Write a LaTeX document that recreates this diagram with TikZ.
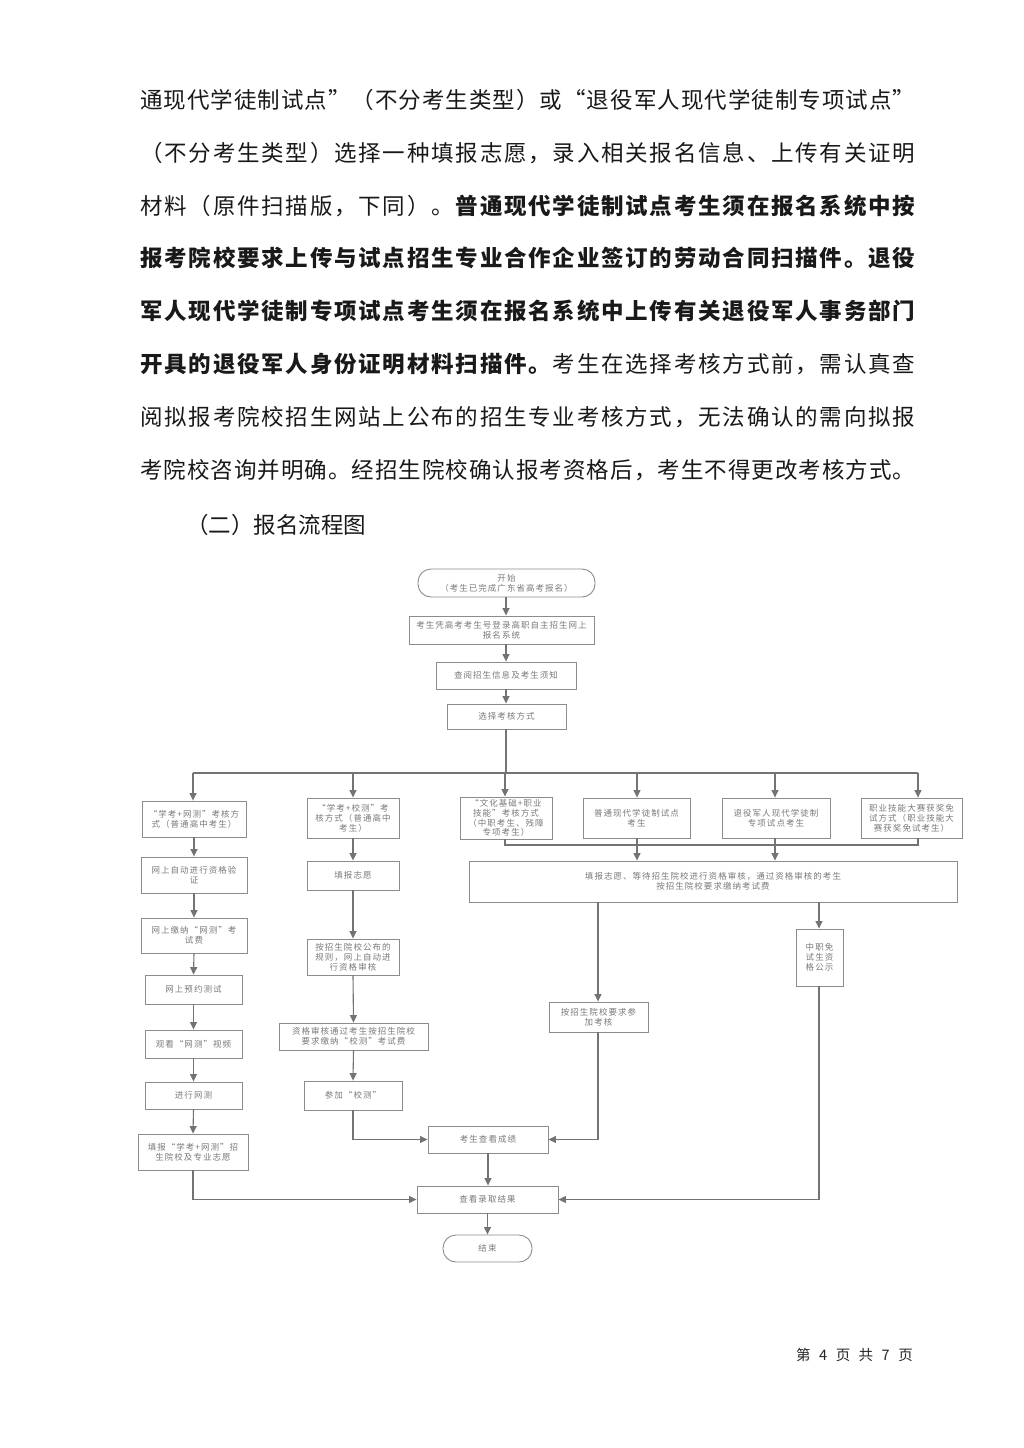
\documentclass[tikz,border=0pt]{standalone}
\usepackage{fontspec}
\setmainfont{Noto Sans CJK SC}
\newfontfamily\cjkf[LetterSpace=12]{Noto Sans CJK SC}
\usetikzlibrary{arrows.meta}
\definecolor{lc}{HTML}{737373}
\definecolor{bc}{HTML}{8C8C8C}
\definecolor{tc}{HTML}{7A7A7A}
\newdimen\linew \linew=775pt
\def\jlEnd{JLEND}\def\B{BOLD}\def\N{NORM}
\def\jlStop#1{}
\def\jlB#1{\ifx#1\jlEnd\expandafter\jlStop\else\expandafter\jlC\fi#1}
\def\jlC#1{\ifx#1\B\bfseries\else\ifx#1\N\mdseries\else\hfil#1\fi\fi\jlB}
\def\jline#1{\hbox to\linew{\hfilneg\jlB#1\jlEnd}}
\tikzset{
  body/.style={anchor=base west, inner sep=0pt, font=\fontsize{22.5}{27}\selectfont, text=black!90},
  box/.style={draw=bc, line width=0.9pt, fill=white, text=tc, font=\cjkf\fontsize{8.5}{9.8}\selectfont, align=center, inner sep=0pt, rectangle},
  term/.style={box, rounded corners=13pt},
  ln/.style={draw=lc, line width=1.1pt},
  arr/.style={ln, -{Triangle[length=7.5pt,width=7pt]}},
}
\newcommand\bx[6]{\node[box, minimum width=#4pt, minimum height=#5pt] (#1) at (#2,#3) {#6};}
\begin{document}
\begin{tikzpicture}[x=1pt,y=-1pt]
\useasboundingbox (0,0) rectangle (1024,1448);
\fill[white] (0,0) rectangle (1024,1448);
% body text
\node[body] (l1) at (140,108.5) {\jline{通现代学徒制试点”（不分考生类型）或“退役军人现代学徒制专项试点”}};
\node[body] (l2) at (140,161.3) {\jline{（不分考生类型）选择一种填报志愿，录入相关报名信息、上传有关证明}};
\node[body] (l3) at (140,214.1) {\jline{材料（原件扫描版，下同）。\B 普通现代学徒制试点考生须在报名系统中按}};
\node[body] (l4) at (140,266.9) {\jline{\B 报考院校要求上传与试点招生专业合作企业签订的劳动合同扫描件。退役}};
\node[body] (l5) at (140,319.7) {\jline{\B 军人现代学徒制专项试点考生须在报名系统中上传有关退役军人事务部门}};
\node[body] (l6) at (140,372.5) {\jline{\B 开具的退役军人身份证明材料扫描件。\N 考生在选择考核方式前，需认真查}};
\node[body] (l7) at (140,425.3) {\jline{阅拟报考院校招生网站上公布的招生专业考核方式，无法确认的需向拟报}};
\node[body] (l8) at (140,478.1) {\jline{考院校咨询并明确。经招生院校确认报考资格后，考生不得更改考核方式。}};
\node[body] (h2) at (186,533.5) {（二）报名流程图};
% flowchart
\node[term, minimum width=177pt, minimum height=28pt] (st) at (506.5,583) {开始\\（考生已完成广东省高考报名）};
\bx{n1}{501.5}{630}{185}{28}{考生凭高考考生号登录高职自主招生网上\\报名系统}
\bx{n2}{506}{675.5}{140}{27}{查阅招生信息及考生须知}
\bx{n3}{506.5}{716.5}{119}{25}{选择考核方式}
\bx{A1}{194}{819}{104}{36}{“学考+网测”考核方\\式（普通高中考生）}
\bx{B1}{353}{818}{92}{40}{“学考+校测”考\\核方式（普通高中\\考生）}
\bx{C1}{506}{818}{92}{42}{“文化基础+职业\\技能”考核方式\\（中职考生、残障\\专项考生）}
\bx{D1}{636.5}{818}{107}{40}{普通现代学徒制试点\\考生}
\bx{E1}{776}{818}{108}{40}{退役军人现代学徒制\\专项试点考生}
\bx{F1}{911.5}{818}{101}{40}{职业技能大赛获奖免\\试方式（职业技能大\\赛获奖免试考生）}
\bx{G}{713}{881.5}{488}{41}{填报志愿、等待招生院校进行资格审核，通过资格审核的考生\\按招生院校要求缴纳考试费}
\bx{H}{598.5}{1017}{99}{30}{按招生院校要求参\\加考核}
\bx{I}{819.5}{957.5}{47}{57}{中职免\\试生资\\格公示}
\bx{A2}{194}{875}{106}{36}{网上自动进行资格验\\证}
\bx{A3}{194}{935.5}{106}{35}{网上缴纳“网测”考\\试费}
\bx{A4}{193.5}{989.5}{97}{29}{网上预约测试}
\bx{A5}{193.5}{1044}{97}{28}{观看“网测”视频}
\bx{A6}{193.5}{1095.5}{97}{27}{进行网测}
\bx{A7}{193}{1152}{110}{36}{填报“学考+网测”招\\生院校及专业志愿}
\bx{B2}{353}{875.5}{92}{29}{填报志愿}
\bx{B3}{353}{957}{92}{36}{按招生院校公布的\\规则，网上自动进\\行资格审核}
\bx{B4}{353.5}{1036.5}{149}{27}{资格审核通过考生按招生院校\\要求缴纳“校测”考试费}
\bx{B5}{353}{1095.5}{98}{29}{参加“校测”}
\bx{J}{488}{1139.5}{120}{27}{考生查看成绩}
\bx{K}{487.5}{1199.5}{141}{27}{查看录取结果}
\node[term, minimum width=89pt, minimum height=27pt] (en) at (487.5,1248.5) {结束};
% top chain
\coordinate (c0) at (506,583);
\draw[arr] (c0 |- st.south) -- (c0 |- n1.north);
\draw[arr] (c0 |- n1.south) -- (c0 |- n2.north);
\draw[arr] (c0 |- n2.south) -- (c0 |- n3.north);
% bus
\coordinate (bA) at (193,773);
\coordinate (bB) at (353,773);
\coordinate (bC) at (505,773);
\coordinate (bD) at (637,773);
\coordinate (bE) at (775,773);
\coordinate (bF) at (918,773);
\draw[ln] (c0 |- n3.south) -- (c0 |- bC);
\draw[ln] (bA) -- (bF);
\foreach \p/\b in {bA/A1,bB/B1,bC/C1,bD/D1,bE/E1,bF/F1}
  \draw[arr] (\p) -- (\p |- \b.north);
% join under row
\coordinate (jC) at (505,845);
\coordinate (jF) at (918,845);
\draw[ln] (jC |- C1.south) -- (jC) -- (jF) -- (jF |- F1.south);
\draw[arr] (bD |- D1.south) -- (bD |- G.north);
\draw[arr] (bE |- E1.south) -- (bE |- G.north);
% G outputs
\coordinate (gH) at (598,900);
\coordinate (gI) at (819,900);
\draw[arr] (gH |- G.south) -- (gH |- H.north);
\draw[arr] (gI |- G.south) -- (gI |- I.north);
% left column
\draw[arr] (A1.south) -- (A2.north);
\draw[arr] (A2.south) -- (A3.north);
\draw[arr] (A3.south) -- (A4.north);
\draw[arr] (A4.south) -- (A5.north);
\draw[arr] (A5.south) -- (A6.north);
\draw[arr] (A6.south) -- (A7.north);
% second column
\draw[arr] (B1.south) -- (B2.north);
\draw[arr] (B2.south) -- (B3.north);
\draw[arr] (B3.south) -- (B4.north);
\draw[arr] (B4.south) -- (B5.north);
% to results
\draw[arr] (B5.south) |- (J.west);
\draw[arr] (gH |- H.south) |- (J.east);
\draw[arr] (A7.south) |- (K.west);
\draw[arr] (gI |- I.south) |- (K.east);
\draw[arr] (J.south) -- (J.south |- K.north);
\draw[arr] (K.south) -- (K.south |- en.north);
% footer
\node[anchor=base west, inner sep=0pt, font=\fontsize{14.5}{16}\selectfont, text=black!85] (ft) at (796,1360.5) {第\hspace{8.5pt}4\hspace{8.5pt}页\hspace{8.5pt}共\hspace{8.5pt}7\hspace{8.5pt}页};
\end{tikzpicture}
\end{document}
